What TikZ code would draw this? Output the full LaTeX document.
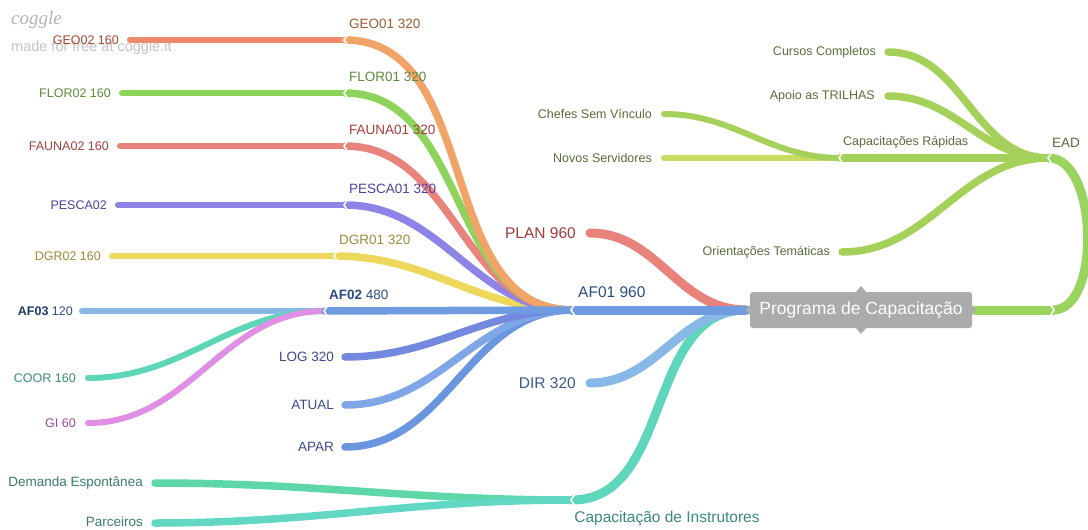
\documentclass[tikz,border=0pt]{standalone}
\usepackage{fontspec}
\setmainfont{Liberation Sans}
\newfontfamily\wmserif{Liberation Serif}
\usetikzlibrary{calc}
% line colours
\definecolor{cGeoA}{HTML}{F2A468}
\definecolor{cGeoB}{HTML}{EE8A6C}
\definecolor{cFlor}{HTML}{8ED45C}
\definecolor{cFauna}{HTML}{E8847C}
\definecolor{cPesca}{HTML}{8E83E6}
\definecolor{cDgr}{HTML}{EDD85C}
\definecolor{cAf}{HTML}{6F9BE0}
\definecolor{cAfL}{HTML}{88B8E8}
\definecolor{cCoor}{HTML}{5DD6B8}
\definecolor{cGi}{HTML}{E090E4}
\definecolor{cLog}{HTML}{7488E0}
\definecolor{cAtual}{HTML}{7FA6E6}
\definecolor{cApar}{HTML}{6A96E0}
\definecolor{cPlan}{HTML}{E8827A}
\definecolor{cCi}{HTML}{5DD6BC}
\definecolor{cDem}{HTML}{5DD6A8}
\definecolor{cParc}{HTML}{62D8C4}
\definecolor{cEad}{HTML}{98D45E}
\definecolor{cGreen}{HTML}{A5D15A}
\definecolor{cNovos}{HTML}{C8DC60}
\definecolor{cBox}{HTML}{ABABAB}
% text colours
\definecolor{tGeoA}{HTML}{9A5C32}
\definecolor{tGeoB}{HTML}{A4452F}
\definecolor{tFlor}{HTML}{5E8C3C}
\definecolor{tFauna}{HTML}{A3403C}
\definecolor{tPesca}{HTML}{4C42A0}
\definecolor{tDgr}{HTML}{9C8C3C}
\definecolor{tAf}{HTML}{2C4C80}
\definecolor{tAfB}{HTML}{1E3A68}
\definecolor{tCoor}{HTML}{3C8C74}
\definecolor{tGi}{HTML}{A0449A}
\definecolor{tLog}{HTML}{3C4C8C}
\definecolor{tPlan}{HTML}{A03A3A}
\definecolor{tDir}{HTML}{3A5A8A}
\definecolor{tCi}{HTML}{3A8A80}
\definecolor{tDem}{HTML}{3C7C6C}
\definecolor{tGreen}{HTML}{5A6B3C}
\definecolor{tWm}{HTML}{C4C4C4}
\definecolor{tWmA}{HTML}{B4B4B4}
\begin{document}
\begin{tikzpicture}[x=1pt,y=-1pt,
  brA/.style={line width=9pt,line cap=round},
  brB/.style={line width=7.5pt,line cap=round},
  brC/.style={line width=6pt,line cap=round},
  labA/.style={font=\fontsize{15.5}{18}\selectfont,inner sep=0pt},
  labB/.style={font=\fontsize{13.5}{16}\selectfont,inner sep=0pt},
  labC/.style={font=\fontsize{12.5}{15}\selectfont,inner sep=0pt},
  notchl/.pic={\draw[white,line width=1.6pt,line join=miter] (3,-6) -- (-1,0) -- (3,6);},
  notchr/.pic={\draw[white,line width=1.6pt,line join=miter] (-3,-6) -- (1,0) -- (-3,6);}
]
\useasboundingbox (0,0) rectangle (1088,530);
\fill[white] (0,0) rectangle (1088,530);

% watermark
\node[anchor=west,text=tWmA,inner sep=0pt,font=\wmserif\itshape\fontsize{19}{20}\selectfont] (wm1) at (11,20) {coggle};
\node[anchor=west,text=tWm,inner sep=0pt,font=\fontsize{14.5}{16}\selectfont] (wm2) at (11,48) {made for free at coggle.it};

% junction coordinates
\coordinate (rl) at (746,310);
\coordinate (rr) at (975,310);
\coordinate (af01) at (572,310);
\coordinate (plan) at (590,233);
\coordinate (dir) at (590,383);
\coordinate (ci) at (572,500);
\coordinate (geo01) at (345,40);
\coordinate (flor01) at (345,93);
\coordinate (fauna01) at (345,146);
\coordinate (pesca01) at (345,205);
\coordinate (dgr01) at (335,256);
\coordinate (af02) at (325,311);
\coordinate (log) at (345,357);
\coordinate (atual) at (345,405);
\coordinate (apar) at (345,447);
\coordinate (geo02) at (130,40);
\coordinate (flor02) at (122,93);
\coordinate (fauna02) at (120,146);
\coordinate (pesca02) at (118,205);
\coordinate (dgr02) at (112,256);
\coordinate (af03) at (82,311);
\coordinate (coor) at (88,378);
\coordinate (gi) at (88,423);
\coordinate (dem) at (155,483);
\coordinate (parc) at (155,523);
\coordinate (eadj) at (1053,310);
\coordinate (ead) at (1049,158);
\coordinate (caprap) at (840,158);
\coordinate (cursos) at (888,52);
\coordinate (apoio) at (888,96);
\coordinate (orient) at (842,252);
\coordinate (novos) at (664,158);
\coordinate (chefes) at (664,114);

% level 3 lines
\draw[brC,cGeoB] (geo01) -- (geo02);
\draw[brC,cFlor] (flor01) -- (flor02);
\draw[brC,cFauna] (fauna01) -- (fauna02);
\draw[brC,cPesca] (pesca01) -- (pesca02);
\draw[brC,cDgr] (dgr01) -- (dgr02);
\draw[brC,cAfL] (af02) -- (af03);
\draw[brC,cCoor] (af02) to[out=180,in=0] (coor);
\draw[brC,cGi] (af02) to[out=180,in=0] (gi);
\draw[brB,cDem] (ci) to[out=180,in=0] (dem);
\draw[brB,cParc] (ci) to[out=180,in=0] (parc);
\draw[brC,cNovos] (caprap) -- (novos);
\draw[brC,cGreen] (caprap) to[out=180,in=0] (chefes);

% level 2 lines
\draw[brB,cApar] (af01) to[out=180,in=0] (apar);
\draw[brB,cAtual] (af01) to[out=180,in=0] (atual);
\draw[brB,cLog] (af01) to[out=180,in=0] (log);
\draw[brB,cDgr] (af01) to[out=180,in=0] (dgr01);
\draw[brB,cPesca] (af01) to[out=180,in=0] (pesca01);
\draw[brB,cFauna] (af01) to[out=180,in=0] (fauna01);
\draw[brB,cFlor] (af01) to[out=180,in=0] (flor01);
\draw[brB,cGeoA] (af01) to[out=180,in=0] (geo01);
\draw[brB,cAf] (af01) -- (af02);
\draw[brB,cGreen] (ead) to[out=180,in=0] (cursos);
\draw[brB,cGreen] (ead) to[out=180,in=0] (apoio);
\draw[brB,cGreen] (ead) to[out=180,in=0] (orient);
\draw[brB,cGreen] (ead) -- (caprap);

% level 1 lines
\draw[brA,cCi] (rl) to[out=180,in=0] (ci);
\draw[brA,cAfL] (rl) to[out=180,in=0] (dir);
\draw[brA,cPlan] (rl) to[out=180,in=0] (plan);
\draw[brA,cAf] (rl) -- (af01);
\draw[brA,cEad] (rr) -- (eadj);
\draw[brA,cEad] (eadj) to[out=0,in=0,looseness=0.82] (ead);

% notches
\pic at (af01) {notchl};
\pic at (af02) {notchl};
\pic at (geo01) {notchl};
\pic at (flor01) {notchl};
\pic at (fauna01) {notchl};
\pic at (pesca01) {notchl};
\pic at (dgr01) {notchl};
\pic at (ci) {notchl};
\pic at (caprap) {notchl};
\pic at (ead) {notchl};
\pic at (eadj) {notchr};

% central node
\node[fill=cBox,rounded corners=3pt,minimum width=222pt,minimum height=36pt,inner sep=0pt,
      text=white,font=\fontsize{17.5}{20}\selectfont] (prog) at (861,310) {Programa de Capacita\c{c}\~ao};
\fill[cBox] (855,293) -- (861,286) -- (867,293) -- cycle;
\fill[cBox] (855,327) -- (861,334) -- (867,327) -- cycle;
\fill[cBox] (751,304) -- (746,310) -- (751,316) -- cycle;
\fill[cBox] (971,304) -- (976,310) -- (971,316) -- cycle;

% level 1 labels
\node[labA,text=tAf,anchor=base west] (af01l) at (578,297) {AF01 960};
\node[labA,text=tPlan,anchor=east] (planl) at (576,233) {PLAN 960};
\node[labA,text=tDir,anchor=east] (dirl) at (576,383) {DIR 320};
\node[labA,text=tCi,anchor=center] (cil) at (667,519) {Capacita\c{c}\~ao de Instrutores};
\node[labB,text=tGreen,anchor=west] (eadl) at (1052,143) {EAD};

% level 2 labels
\node[labB,text=tGeoA,anchor=base west] (geo01l) at (349,28) {GEO01 320};
\node[labB,text=tFlor,anchor=base west] (flor01l) at (349,81) {FLOR01 320};
\node[labB,text=tFauna,anchor=base west] (fauna01l) at (349,134) {FAUNA01 320};
\node[labB,text=tPesca,anchor=base west] (pesca01l) at (349,193) {PESCA01 320};
\node[labB,text=tDgr,anchor=base west] (dgr01l) at (339,244) {DGR01 320};
\node[labB,text=tAf,anchor=base west] (af02l) at (329,299) {\textbf{AF02} 480};
\node[labB,text=tLog,anchor=east] (logl) at (334,357) {LOG 320};
\node[labB,text=tLog,anchor=east] (atuall) at (334,405) {ATUAL};
\node[labB,text=tLog,anchor=east] (aparl) at (334,447) {APAR};
\node[labB,text=tDem,anchor=east] (deml) at (143,483) {Demanda Espont\^anea};
\node[labB,text=tDem,anchor=east] (parcl) at (143,522) {Parceiros};
\node[labC,text=tGreen,anchor=base west] (capl) at (843,145) {Capacita\c{c}\~oes R\'apidas};
\node[labC,text=tGreen,anchor=east] (cursosl) at (876,52) {Cursos Completos};
\node[labC,text=tGreen,anchor=east] (apoiol) at (875,96) {Apoio as TRILHAS};
\node[labC,text=tGreen,anchor=east] (orientl) at (830,252) {Orienta\c{c}\~oes Tem\'aticas};

% level 3 labels
\node[labC,text=tGeoB,anchor=east] (geo02l) at (119,40) {GEO02 160};
\node[labC,text=tFlor,anchor=east] (flor02l) at (111,93) {FLOR02 160};
\node[labC,text=tFauna,anchor=east] (fauna02l) at (109,146) {FAUNA02 160};
\node[labC,text=tPesca,anchor=east] (pesca02l) at (107,205) {PESCA02};
\node[labC,text=tDgr,anchor=east] (dgr02l) at (101,256) {DGR02 160};
\node[labC,text=tAf,anchor=east] (af03l) at (73,311) {\textcolor{tAfB}{\textbf{AF03}} 120};
\node[labC,text=tCoor,anchor=east] (coorl) at (76,378) {COOR 160};
\node[labC,text=tGi,anchor=east] (gil) at (76,423) {GI 60};
\node[labC,text=tGreen,anchor=east] (novosl) at (652,158) {Novos Servidores};
\node[labC,text=tGreen,anchor=east] (chefesl) at (652,114) {Chefes Sem V\'{\i}nculo};
\end{tikzpicture}
\end{document}
